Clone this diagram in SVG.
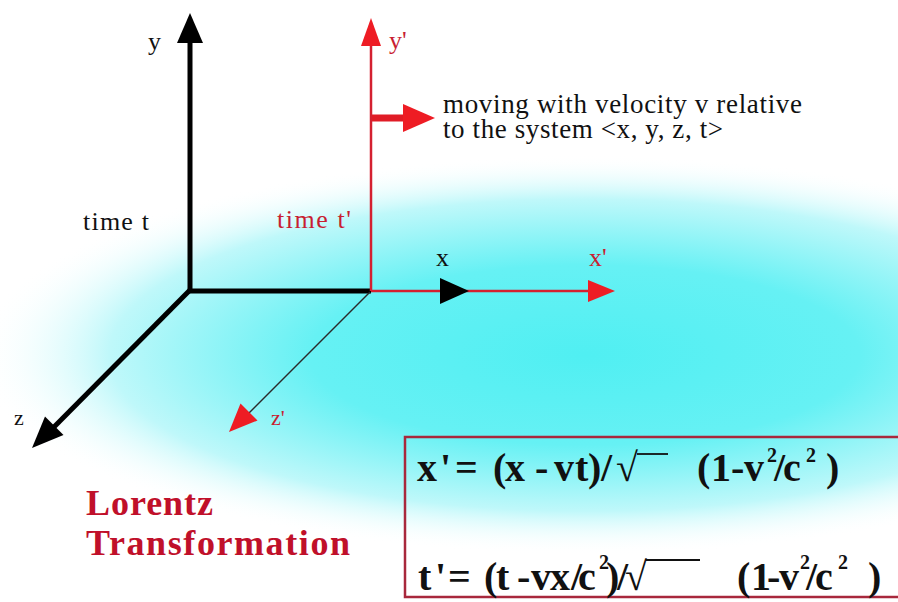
<svg xmlns="http://www.w3.org/2000/svg" width="898" height="602" viewBox="0 0 898 602">
<defs>
  <radialGradient id="glow" cx="0.5" cy="0.5" r="0.5">
    <stop offset="0" stop-color="#50eff2"/>
    <stop offset="0.45" stop-color="#66f1f4"/>
    <stop offset="0.78" stop-color="#bff8fa"/>
    <stop offset="1" stop-color="#ffffff" stop-opacity="0"/>
  </radialGradient>
  <style>
    .lbl { font-family: "Liberation Serif", "Times New Roman", serif; font-size: 26px; }
    .blk { fill: #111111; }
    .red { fill: #c81e32; }
    .f { font-family: "Liberation Serif", "Times New Roman", serif; font-weight: bold; font-size: 40px; fill: #111111; }
    .sup { font-size: 20px; }
    .title { font-family: "Liberation Serif", "Times New Roman", serif; font-weight: bold; font-size: 36px; fill: #c0102a; }
    .ax { stroke: #000000; stroke-width: 5; fill: none; }
    .rax { stroke: #d42030; stroke-width: 2.5; fill: none; }
    .bhead { fill: #000000; }
    .rhead { fill: #ee1c24; }
    .bar { stroke: #111111; stroke-width: 1.8; }
  </style>
</defs>

<rect width="898" height="602" fill="#ffffff"/>
<ellipse id="glow-bg" cx="585" cy="355" rx="610" ry="200" fill="url(#glow)"/>

<g id="connectors">
  <!-- black system -->
  <line class="ax" x1="190" y1="291" x2="190" y2="38"/>
  <polygon class="bhead" points="190,13 177,43 203,43"/>
  <line class="ax" x1="188" y1="291" x2="371" y2="291"/>
  <line class="ax" x1="190" y1="290" x2="52" y2="429"/>
  <polygon class="bhead" points="32,448 45,416.5 63.5,435"/>
  <!-- red system -->
  <line class="rax" x1="371" y1="291" x2="371" y2="40"/>
  <polygon class="rhead" points="371,18 361,46 381,46"/>
  <line class="rax" x1="371" y1="291" x2="593" y2="291"/>
  <polygon class="bhead" points="469,291 440,278 440,304"/>
  <polygon class="rhead" points="615,291 588,280 588,302"/>
  <line x1="370" y1="292" x2="246" y2="416" stroke="#2a2a2a" stroke-width="1.4"/>
  <polygon class="rhead" points="229,432 240.5,403.5 257.5,420.5"/>
  <!-- velocity arrow -->
  <line x1="372" y1="118" x2="406" y2="118" stroke="#e01c26" stroke-width="7"/>
  <polygon class="rhead" points="435,118 403,104 403,132"/>
</g>

<g id="axis-labels">
  <text class="lbl blk" x="148" y="50">y</text>
  <text class="lbl red" x="389" y="49">y'</text>
  <text class="lbl blk" x="436" y="266">x</text>
  <text class="lbl red" x="589" y="266">x'</text>
  <text class="lbl blk" x="14" y="425" style="font-size:22px">z</text>
  <text class="lbl red" x="271" y="425" style="font-size:22px">z'</text>
  <text class="lbl blk" x="83" y="230" textLength="66" lengthAdjust="spacing">time t</text>
  <text class="lbl red" x="277" y="228" textLength="74" lengthAdjust="spacing">time t'</text>
</g>

<g id="velocity-note">
  <text class="lbl blk" x="443" y="113" style="font-size:27px" textLength="359" lengthAdjust="spacing">moving with velocity v relative</text>
  <text class="lbl blk" x="443" y="138" style="font-size:27px" textLength="280" lengthAdjust="spacing">to the system &lt;x, y, z, t&gt;</text>
</g>

<g id="title">
  <text class="title" x="86" y="515" textLength="127" lengthAdjust="spacing">Lorentz</text>
  <text class="title" x="86" y="555" textLength="264" lengthAdjust="spacing">Transformation</text>
</g>

<g id="formula-box">
  <rect x="405" y="437" width="500" height="160" fill="none" stroke="#a8283c" stroke-width="2.5"/>
  <text class="f" y="481">
    <tspan x="417">x</tspan><tspan x="440">'</tspan><tspan x="455">=</tspan><tspan x="493">(</tspan><tspan x="505">x</tspan><tspan x="535">-</tspan><tspan x="554">v</tspan><tspan x="575">t</tspan><tspan x="588">)</tspan><tspan x="601">/</tspan><tspan x="616">√</tspan><tspan x="697">(</tspan><tspan x="711">1</tspan><tspan x="731">-</tspan><tspan x="744">v</tspan><tspan class="sup" x="767" y="462">2</tspan><tspan x="774" y="481">/</tspan><tspan x="783">c</tspan><tspan class="sup" x="806" y="462">2</tspan><tspan x="826" y="481">)</tspan>
  </text>
  <line class="bar" x1="637" y1="454" x2="668" y2="454"/>
  <text class="f" y="590">
    <tspan x="418">t</tspan><tspan x="435">'</tspan><tspan x="448">=</tspan><tspan x="484">(</tspan><tspan x="496">t</tspan><tspan x="517">-</tspan><tspan x="531">v</tspan><tspan x="550">x</tspan><tspan x="571">/</tspan><tspan x="578">c</tspan><tspan class="sup" x="599" y="569">2</tspan><tspan x="606" y="590">)</tspan><tspan x="617">/</tspan><tspan x="625">√</tspan><tspan x="737">(</tspan><tspan x="751">1</tspan><tspan x="767">-</tspan><tspan x="779">v</tspan><tspan class="sup" x="800" y="569">2</tspan><tspan x="806" y="590">/</tspan><tspan x="815">c</tspan><tspan class="sup" x="838" y="569">2</tspan><tspan x="868" y="590">)</tspan>
  </text>
  <line class="bar" x1="646" y1="560" x2="700" y2="560"/>
</g>
</svg>
